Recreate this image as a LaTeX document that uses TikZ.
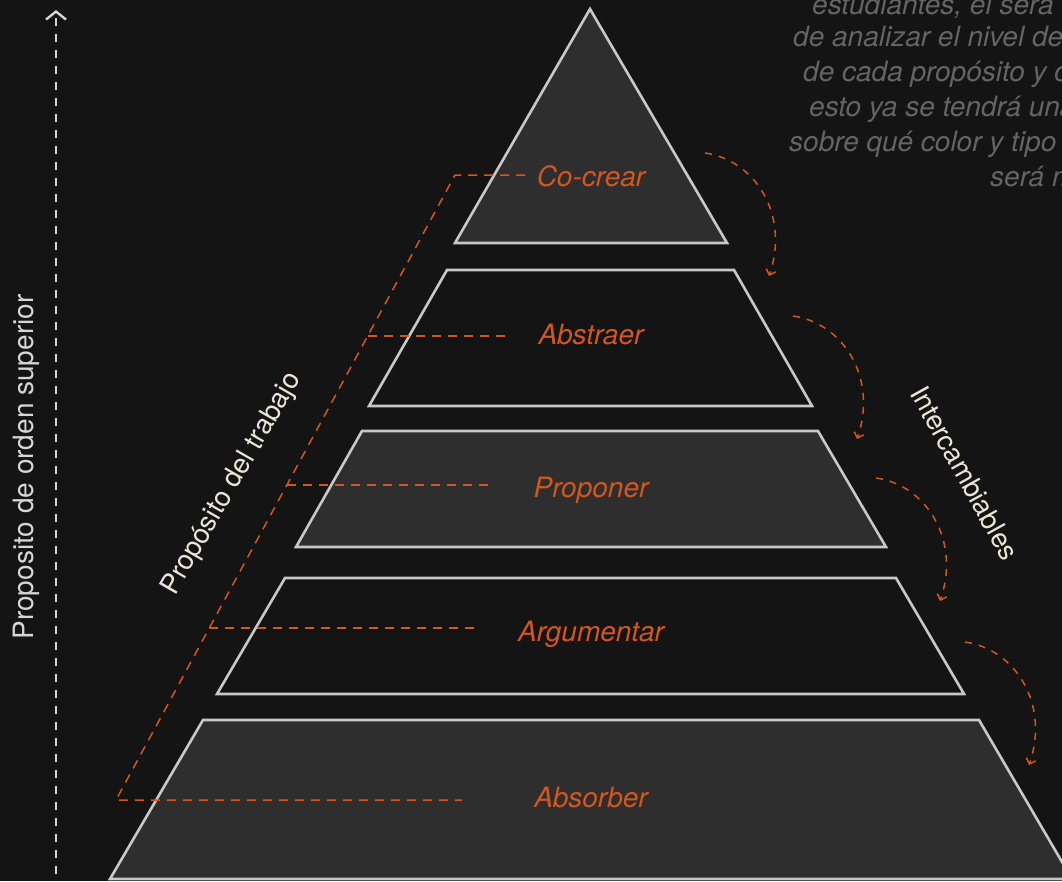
\documentclass[tikz,border=0pt]{standalone}
\usepackage{fontspec}
\setmainfont{TeX Gyre Heros}
\usetikzlibrary{arrows.meta}
\definecolor{bg}{HTML}{141414}
\definecolor{tierfill}{HTML}{2E2E2E}
\definecolor{edge}{HTML}{C8C8C8}
\definecolor{accent}{HTML}{D2561E}
\definecolor{note}{HTML}{646464}
\definecolor{cream}{HTML}{E9E4D6}
\definecolor{axis}{HTML}{D6D6D6}

\begin{document}
\begin{tikzpicture}[x=1pt,y=-1pt,
  tier/.style={draw=edge,line width=2.6pt,line join=miter},
  solidtier/.style={tier,fill=tierfill},
  hollowtier/.style={tier,fill=bg},
  tierlabel/.style={text=accent,font=\fontsize{28}{33}\selectfont\itshape,anchor=base,inner sep=0pt},
  guide/.style={draw=accent,line width=1.5pt,dash pattern=on 9pt off 7pt},
  swaparrow/.style={draw=accent,line width=1.5pt,dash pattern=on 7pt off 7pt,
    -{Straight Barb[length=5pt,width=10pt,line width=1.5pt]}},
  sidelabel/.style={text=cream,font=\fontsize{27.5}{32}\selectfont,inner sep=0pt},
  notetext/.style={text=note,font=\fontsize{28}{33}\selectfont\itshape,anchor=base west,inner sep=0pt}]

% canvas
\fill[bg] (0,0) rectangle (1062,881);
\useasboundingbox (0,0) rectangle (1062,881);
\clip (0,0) rectangle (1062,881);

% pyramid tiers
\draw[solidtier]  (590,9) -- (727,243) -- (455,243) -- cycle;
\draw[hollowtier] (447,270) -- (734,270) -- (812,406) -- (369,406) -- cycle;
\draw[solidtier]  (362,431) -- (818,431) -- (886,547) -- (296,547) -- cycle;
\draw[hollowtier] (285,578) -- (896,578) -- (964,694) -- (217,694) -- cycle;
\draw[solidtier]  (203,720) -- (979,720) -- (1072,879) -- (110,879) -- cycle;

% vertical axis
\coordinate (axisfoot) at (56,890);
\coordinate (axistop) at (56,10);
\draw[axis,line width=2.4pt,dash pattern=on 8pt off 8pt,
  -{Straight Barb[length=8pt,width=20pt,line width=2.4pt]}] (axisfoot) -- (axistop);
\node[sidelabel,text=axis,font=\fontsize{28}{33}\selectfont,rotate=90] (orden) at (26,467) {Proposito de orden superior};

% guide lines to each tier label
\coordinate (gtop) at (455,175);
\coordinate (gbot) at (116,800);
\draw[guide] (525,175) -- (gtop) -- (gbot) -- (462,800);
\draw[guide] (367.5,336) -- (505,336);
\draw[guide] (286.9,485) -- (490,485);
\draw[guide] (209.3,628) -- (478,628);

% tier labels
\node[tierlabel] (cocrear) at (591,186) {Co-crear};
\node[tierlabel] (abstraer) at (591,344) {Abstraer};
\node[tierlabel] (proponer) at (591,497) {Proponer};
\node[tierlabel] (argumentar) at (591,641) {Argumentar};
\node[tierlabel] (absorber) at (591,807) {Absorber};

% side captions
\node[sidelabel,rotate=60] (trabajo) at (232,484) {Propósito del trabajo};
\node[sidelabel,rotate=-61] (intercambio) at (965,473) {Intercambiables};

% curved exchange arrows
\foreach \dx/\dy [count=\i] in {0/0, 88/163, 171/325, 260/489} {
  \coordinate (s\i) at (705+\dx,153+\dy);
  \coordinate (e\i) at (769+\dx,276+\dy);
  \draw[swaparrow] (s\i) .. controls (755+\dx,160+\dy) and (790+\dx,215+\dy) .. (e\i);
}

% note text in the upper right
\node[notetext] (n1) at (812,14)  {estudiantes, el será el};
\node[notetext] (n2) at (793,46)  {de analizar el nivel de};
\node[notetext] (n3) at (803,81)  {de cada propósito y con};
\node[notetext] (n4) at (809,116) {esto ya se tendrá una};
\node[notetext] (n5) at (789,151) {sobre qué color y tipo};
\node[notetext] (n6) at (990,186) {será más};
\end{tikzpicture}
\end{document}
